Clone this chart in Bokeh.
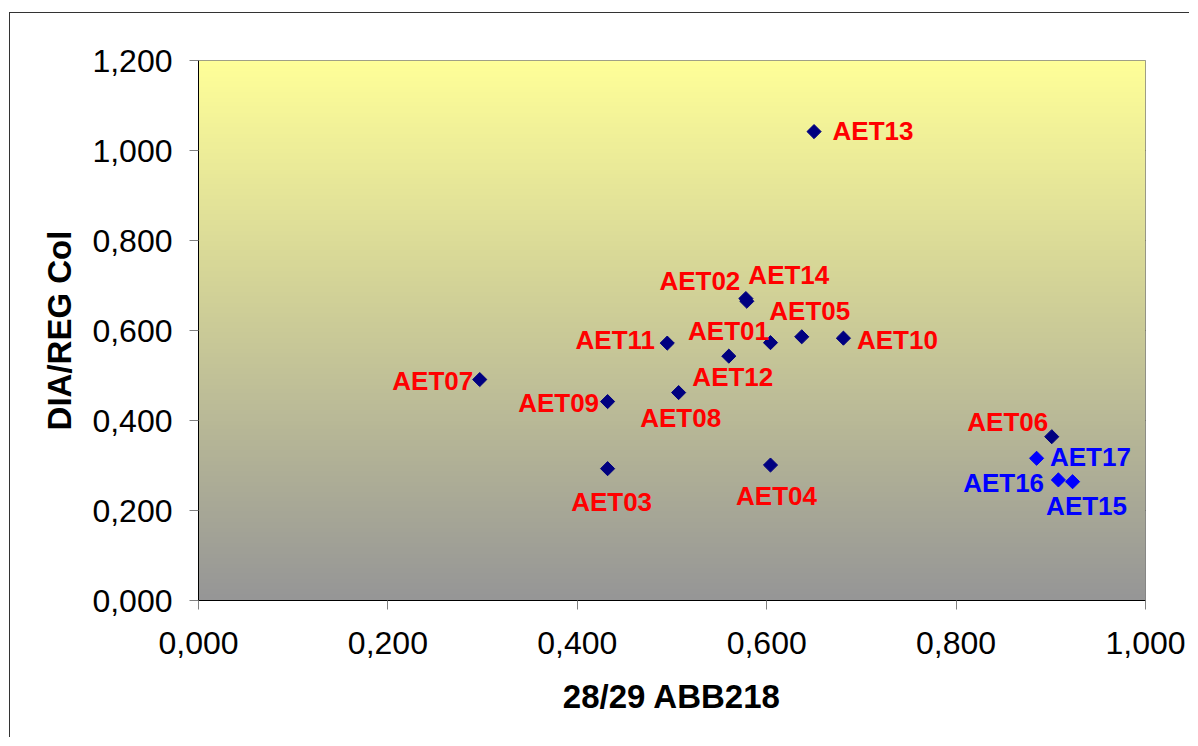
import numpy as np
from bokeh.plotting import figure
from bokeh.models import ColumnDataSource, FixedTicker, CustomJSTickFormatter
from bokeh.core.properties import value
from bokeh.embed import file_html
from bokeh.resources import INLINE

# ---- data ----
names = ["AET01", "AET02", "AET03", "AET04", "AET05", "AET06", "AET07", "AET08",
         "AET09", "AET10", "AET11", "AET12", "AET13", "AET14", "AET15", "AET16", "AET17"]
x_vals = [0.604, 0.578, 0.432, 0.604, 0.637, 0.901, 0.297, 0.507,
          0.432, 0.681, 0.495, 0.560, 0.650, 0.579, 0.923, 0.885, 0.908]
y_vals = [0.573, 0.671, 0.293, 0.301, 0.586, 0.364, 0.491, 0.462,
          0.442, 0.583, 0.572, 0.543, 1.042, 0.665, 0.264, 0.316, 0.268]
group = ["a"] * 14 + ["b"] * 3
x_ticks = [0.0, 0.2, 0.4, 0.6, 0.8, 1.0]
y_ticks = [0.0, 0.2, 0.4, 0.6, 0.8, 1.0, 1.2]
x_title = "28/29 ABB218"
y_title = "DIA/REG Col"

# ---- styling / label placement (pixels, screen: +dy = down) ----
label_dx = [-42, -46, 4, 6, 8, -44, -47, 2, -49, 54, -52, 4, 59, 42, 14, -33, 32]
label_dy = [-12, -18, 33, 31, -26, -15, 1, 25, 1, 2, -3, 21, -1, -26, 24, 25, -23]
marker_col = {"a": "#000080", "b": "#0000FF"}
label_col = {"a": "#FF0000", "b": "#0000FF"}

src = ColumnDataSource(dict(
    x=x_vals, y=y_vals, name=names,
    mc=[marker_col[g] for g in group],
    lc=[label_col[g] for g in group],
    dx=label_dx, dy=label_dy,
))

p = figure(width=1180, height=725, x_range=(0, 1.0), y_range=(0, 1.2),
           output_backend="svg", toolbar_location=None,
           min_border_left=188, min_border_right=45, min_border_top=47, min_border_bottom=138)
p.margin = (12, 0, 0, 9)
p.styles = {"border-left": "1px solid #333333", "border-top": "1px solid #333333"}

# gradient background
n = 256
t = np.linspace(0, 1, n)  # 0 bottom -> 1 top
top = np.array([255, 255, 153])
bot = np.array([150, 150, 150])
img = np.empty((n, 1), dtype=np.uint32)
view = img.view(dtype=np.uint8).reshape((n, 1, 4))
for i in range(n):
    c = bot + (top - bot) * t[i]
    view[i, 0, 0] = int(c[0]); view[i, 0, 1] = int(c[1]); view[i, 0, 2] = int(c[2]); view[i, 0, 3] = 255
p.image_rgba(image=[img], x=0, y=0, dw=1.0, dh=1.2)

p.xgrid.visible = False
p.ygrid.ticker = FixedTicker(ticks=y_ticks[1:-1])
p.ygrid.grid_line_color = "#000000"
p.ygrid.grid_line_width = 1
p.ygrid.level = "underlay"

p.outline_line_color = "#808080"
p.background_fill_color = "white"
p.border_fill_color = "white"

fmt = CustomJSTickFormatter(code="return tick.toFixed(3).replace('.', ',');")
for ax, ticks in ((p.xaxis, x_ticks), (p.yaxis, y_ticks)):
    ax.ticker = FixedTicker(ticks=ticks)
    ax.formatter = fmt
    ax.minor_tick_line_color = None
    ax.major_tick_in = 0
    ax.major_tick_out = 9
    ax.major_tick_line_color = "#808080"
    ax.axis_line_color = "#000000"
    ax.major_label_text_font = "Liberation Sans"
    ax.major_label_text_font_size = "32px"
    ax.major_label_text_color = "#000000"
    ax.axis_label_text_font = "Liberation Sans"
    ax.axis_label_text_font_style = "bold"
    ax.axis_label_text_font_size = "33px"
    ax.axis_label_text_color = "#000000"

p.xaxis.axis_label = x_title
p.yaxis.axis_label = y_title
p.xaxis.major_label_standoff = 22
p.yaxis.major_label_standoff = 17
p.xaxis.axis_label_standoff = 21
p.yaxis.axis_label_standoff = 11

p.scatter("x", "y", source=src, marker="square", angle=np.pi / 4, size=10,
          fill_color="mc", line_color="mc")
p.text("x", "y", text="name", source=src, x_offset="dx", y_offset="dy",
       text_color="lc", text_font=value("Liberation Sans"), text_font_style="bold",
       text_font_size="26px", text_align="center", text_baseline="middle")

open("out.html", "w").write(file_html(p, INLINE))
